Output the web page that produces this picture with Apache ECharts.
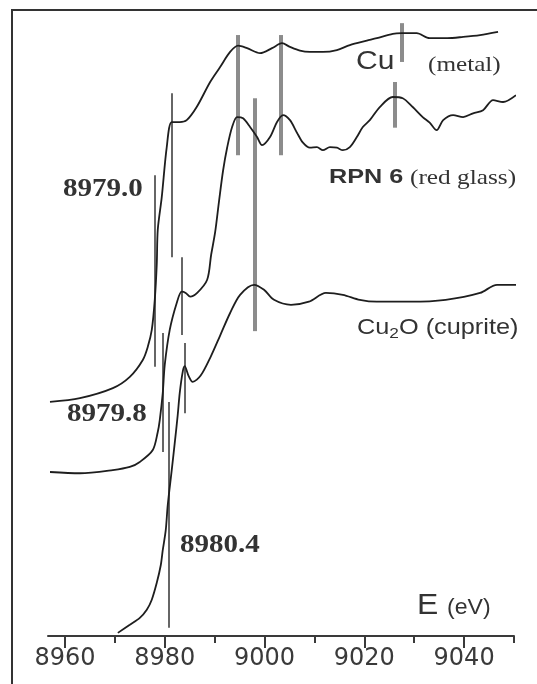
<!DOCTYPE html>
<html>
<head>
<meta charset="utf-8">
<script src="https://cdn.jsdelivr.net/npm/echarts@6/dist/echarts.min.js"></script>
<style>
html,body{margin:0;padding:0;background:#fff;}
#chart{width:537px;height:684px;}
</style>
</head>
<body>
<div id="chart"></div>
<script>
// Energy axis (eV)
const tickLabels = [8960, 8980, 9000, 9020, 9040];
const minorTicks = [8970, 8990, 9010, 9030, 9050];

// Spectra: [energy (eV), absorption (arb. units, offset)]
const cuMetal = [
  [8957.0,37.4],[8963.0,38.0],[8969.6,39.6],[8973.0,41.4],[8975.6,44.1],[8976.6,46.2],
  [8977.4,48.9],[8978.0,53.7],[8978.4,59.4],[8978.6,64.9],[8979.4,70.1],[8980.4,78.1],
  [8981.4,82.1],[8983.0,82.1],[8984.4,82.4],[8986.4,84.5],[8989.1,88.5],[8991.1,90.9],
  [8993.1,93.3],[8994.7,94.3],[8996.5,93.9],[8999.1,93.1],[9001.5,93.9],[9003.5,94.7],
  [9005.1,94.1],[9007.1,93.5],[9009.1,93.3],[9011.7,93.3],[9014.5,93.6],[9017.1,94.4],
  [9020.5,95.1],[9022.5,95.5],[9025.7,96.2],[9027.5,96.3],[9030.5,96.3],[9033.1,95.5],
  [9036.6,95.5],[9039.8,95.7],[9043.2,96.0],[9046.8,96.5]
];
const rpn6 = [
  [8957.0,26.2],[8963.0,26.0],[8969.6,26.5],[8973.0,27.0],[8975.0,27.8],[8977.6,29.7],
  [8978.6,32.6],[8979.0,34.5],[8979.6,38.8],[8980.0,43.3],[8981.0,48.9],[8982.4,53.2],
  [8983.4,55.0],[8984.2,54.8],[8985.1,54.2],[8986.5,54.8],[8988.5,56.9],[8989.3,60.9],
  [8990.1,64.5],[8990.9,69.6],[8991.7,74.4],[8992.5,78.0],[8993.5,81.3],[8994.5,82.9],
  [8995.7,82.7],[8997.1,81.3],[8998.5,79.7],[8999.5,78.4],[9001.1,79.7],[9002.5,82.1],
  [9003.7,83.2],[9005.1,82.4],[9006.5,80.4],[9007.7,78.8],[9009.1,78.0],[9010.5,78.1],
  [9011.7,77.6],[9013.1,78.1],[9014.5,78.0],[9015.7,77.6],[9017.1,78.1],[9018.5,79.7],
  [9019.7,81.3],[9021.1,82.4],[9023.1,84.5],[9025.7,86.1],[9027.7,85.9],[9029.7,84.5],
  [9031.7,82.9],[9033.1,82.0],[9034.5,80.8],[9035.8,82.4],[9037.8,83.2],[9039.8,82.9],
  [9041.8,83.5],[9043.8,84.0],[9045.8,85.6],[9047.8,85.3],[9050.4,86.4]
];
const cu2o = [
  [8970.6,0.5],[8973.0,1.8],[8975.0,2.9],[8976.4,4.2],[8977.4,5.8],[8978.4,8.5],
  [8979.2,11.3],[8979.6,13.7],[8980.2,16.9],[8980.6,20.9],[8981.4,26.5],[8982.0,30.8],
  [8982.6,35.3],[8983.0,38.8],[8983.6,42.2],[8984.0,43.1],[8984.8,41.5],[8985.6,40.6],
  [8987.2,41.6],[8989.2,44.6],[8991.1,48.0],[8993.1,51.6],
  [8995.1,54.5],[8997.9,56.1],[8999.9,55.3],[9001.9,53.7],[9005.3,52.9],[9008.9,53.4],
  [9012.3,54.8],[9015.7,54.5],[9019.1,53.7],[9022.5,53.4],[9029.3,53.4],[9036.3,53.7],
  [9043.2,54.8],[9046.6,56.1],[9050.8,56.1]
];

// Edge / feature markers: [energy, from, to]
const thinMarkers = [
  [8978.0,73.6,43.0],[8981.4,86.7,60.5],[8979.6,48.4,29.4],
  [8983.4,60.5,48.1],[8980.9,37.4,1.3],[8984.0,46.8,35.6]
];
const greyMarkers = [
  [8994.7,96.0,76.8],[9003.3,96.0,76.8],[8998.1,85.9,48.7],
  [9027.5,97.9,91.7],[9026.1,88.5,81.2]
];

const chart = echarts.init(document.getElementById('chart'));
const curveStyle = {color:'#1e1e1e', width:1.8};
const mk = arr => arr.map(m => ({coords:[[m[0],m[1]],[m[0],m[2]]]}));
const sans = '"Liberation Sans", Arial, sans-serif';
const serif = '"Liberation Serif", "Times New Roman", serif';

chart.setOption({
  animation:false,
  backgroundColor:'#fff',
  grid:{left:48, right:23, top:10, bottom:48},
  xAxis:[{
    type:'value', min:8956.6, max:9050, position:'bottom',
    axisLine:{show:true, lineStyle:{color:'#3a3a3a', width:2}},
    axisTick:{show:true, customValues:tickLabels, length:12, lineStyle:{color:'#3a3a3a', width:2}},
    axisLabel:{show:true, customValues:tickLabels, formatter:v => String(v), fontSize:24, fontFamily:'"DejaVu Sans", sans-serif', color:'#3a3a3a', margin:11},
    splitLine:{show:false}
  },{
    type:'value', min:8956.6, max:9050, position:'bottom', offset:0,
    axisLine:{show:false},
    axisTick:{show:true, customValues:minorTicks, length:7, lineStyle:{color:'#3a3a3a', width:2}},
    axisLabel:{show:false},
    splitLine:{show:false}
  }],
  yAxis:{type:'value', min:0, max:100, show:false},
  series:[
    {type:'line', data:cuMetal, smooth:0.3, showSymbol:false, lineStyle:curveStyle, clip:false},
    {type:'line', data:rpn6, smooth:0.3, showSymbol:false, lineStyle:curveStyle, clip:false},
    {type:'line', data:cu2o, smooth:0.3, showSymbol:false, lineStyle:curveStyle, clip:false},
    {type:'lines', coordinateSystem:'cartesian2d', data:mk(thinMarkers), lineStyle:{color:'#333', width:1.5, opacity:1}},
    {type:'lines', coordinateSystem:'cartesian2d', data:mk(greyMarkers), lineStyle:{color:'#8c8c8c', width:4, opacity:1}}
  ],
  graphic:[
    {type:'rect', shape:{x:12, y:10, width:800, height:900}, style:{fill:'none', stroke:'#333', lineWidth:2}, silent:true},
    {type:'text', x:356, y:62, scaleX:1.2, style:{text:'Cu', font:'25px '+sans, fill:'#333', textVerticalAlign:'middle'}},
    {type:'text', x:428, y:65, scaleX:1.2, style:{text:'(metal)', font:'21px '+serif, fill:'#333', textVerticalAlign:'middle'}},
    {type:'text', x:329, y:177, scaleX:1.2, style:{text:'RPN 6', font:'bold 21px '+sans, fill:'#333', textVerticalAlign:'middle'}},
    {type:'text', x:410, y:178, scaleX:1.15, style:{text:'(red glass)', font:'22px '+serif, fill:'#333', textVerticalAlign:'middle'}},
    {type:'text', x:357, y:328, scaleX:1.15, style:{text:'{a|Cu}{s|2}{a|O (cuprite)}', fill:'#333', textVerticalAlign:'middle',
      rich:{a:{font:'22px '+sans, fill:'#333'}, s:{font:'15px '+sans, fill:'#333', padding:[12,0,0,0]}}}},
    {type:'text', x:63, y:190, scaleX:1.16, style:{text:'8979.0', font:'bold 25px '+serif, fill:'#333', textVerticalAlign:'middle'}},
    {type:'text', x:67, y:415, scaleX:1.16, style:{text:'8979.8', font:'bold 25px '+serif, fill:'#333', textVerticalAlign:'middle'}},
    {type:'text', x:180, y:546, scaleX:1.16, style:{text:'8980.4', font:'bold 25px '+serif, fill:'#333', textVerticalAlign:'middle'}},
    {type:'text', x:417, y:606, scaleX:1.1, style:{text:'E', font:'29px '+sans, fill:'#333', textVerticalAlign:'middle'}},
    {type:'text', x:447, y:608, scaleX:1.05, style:{text:'(eV)', font:'22px '+sans, fill:'#333', textVerticalAlign:'middle'}}
  ]
});
</script>
</body>
</html>
